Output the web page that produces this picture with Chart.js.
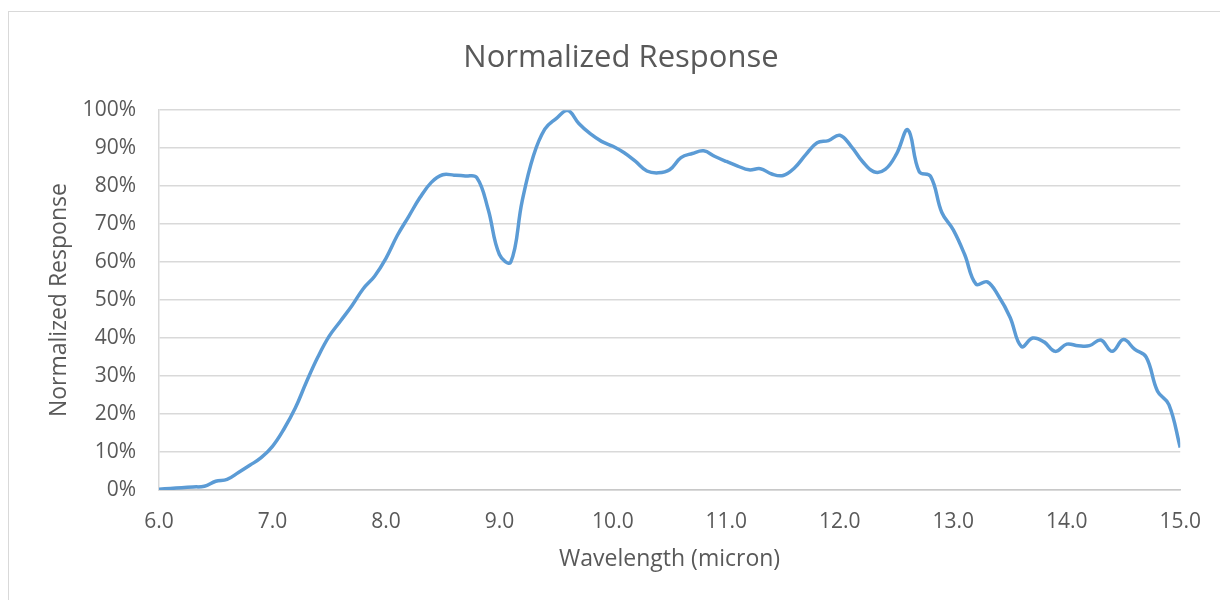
<!DOCTYPE html>
<html>
<head>
<meta charset="utf-8">
<script src="https://cdn.jsdelivr.net/npm/chart.js@4"></script>
<style>
    body { margin: 0; background: #fff; }
    .wrap { position: relative; width: 1220px; height: 600px; overflow: hidden; }
    .frame { position: absolute; left: 8px; top: 11px; width: 1230px; height: 610px;
             border-left: 1.5px solid #d9d9d9; border-top: 1.5px solid #d9d9d9; }
    canvas { position: absolute; left: 0; top: 0; }
</style>
</head>
<body>
<div class="wrap">
    <div class="frame"></div>
    <canvas id="responseChart" width="1220" height="600"></canvas>
</div>
<script>
// Wavelength samples (micron) and normalized response (%)
const wavelengths = [
    6.0, 6.1, 6.2, 6.3, 6.4, 6.5, 6.6, 6.7, 6.8, 6.9,
    7.0, 7.1, 7.2, 7.3, 7.4, 7.5, 7.6, 7.7, 7.8, 7.9,
    8.0, 8.1, 8.2, 8.3, 8.4, 8.5, 8.6, 8.7, 8.8, 8.9,
    9.0, 9.1, 9.2, 9.3, 9.4, 9.5, 9.6, 9.7, 9.8, 9.9,
    10.0, 10.1, 10.2, 10.3, 10.4, 10.5, 10.6, 10.7, 10.8, 10.9,
    11.0, 11.1, 11.2, 11.3, 11.4, 11.5, 11.6, 11.7, 11.8, 11.9,
    12.0, 12.1, 12.2, 12.3, 12.4, 12.5, 12.6, 12.7, 12.8, 12.9,
    13.0, 13.1, 13.2, 13.3, 13.4, 13.5, 13.6, 13.7, 13.8, 13.9,
    14.0, 14.1, 14.2, 14.3, 14.4, 14.5, 14.6, 14.7, 14.8, 14.9,
    15.0
];
const response = [
    0.2, 0.4, 0.6, 0.8, 1.0, 2.3, 2.8, 4.6, 6.5, 8.5,
    11.5, 16.0, 21.5, 28.5, 35.0, 40.5, 44.5, 48.5, 53.0, 56.3,
    61.0, 67.0, 72.0, 77.0, 81.0, 83.0, 82.9, 82.7, 82.3, 74.0,
    62.0, 60.0, 76.0, 88.0, 95.0, 97.8, 100.0, 96.5, 93.8, 91.8,
    90.5, 88.8, 86.5, 84.0, 83.5, 84.3, 87.5, 88.6, 89.3, 87.8,
    86.5, 85.3, 84.3, 84.6, 83.2, 82.8, 84.8, 88.3, 91.4, 92.0,
    93.4, 90.5, 86.5, 83.8, 84.4, 88.5, 94.8, 83.8, 82.6, 73.0,
    68.5, 62.0, 54.2, 54.8, 51.0, 45.5, 37.8, 40.0, 39.0, 36.5,
    38.4, 38.0, 38.0, 39.5, 36.5, 39.6, 37.0, 35.0, 26.0, 22.5,
    11.2
];
const xTicks = [6, 7, 8, 9, 10, 11, 12, 13, 14, 15];

const textColor = '#595959';
const gridColor = '#d9d9d9';
const fontFamily = '"Open Sans", sans-serif';

const points = wavelengths.map((w, i) => ({ x: w, y: response[i] }));

const ctx = document.getElementById('responseChart').getContext('2d');
const responseChart = new Chart(ctx, {
    type: 'line',
    data: {
        datasets: [{
            label: 'Normalized Response',
            data: points,
            borderColor: '#5b9bd5',
            borderWidth: 3.5,
            pointRadius: 0,
            tension: 0.4,
            fill: false
        }]
    },
    options: {
        responsive: false,
        animation: false,
        layout: {
            padding: { left: 22, right: 0, top: 0, bottom: 0 }
        },
        plugins: {
            legend: { display: false },
            tooltip: { enabled: false },
            title: {
                display: true,
                text: 'Normalized Response',
                color: textColor,
                font: { family: fontFamily, size: 31, weight: 'normal' },
                padding: { top: 40, bottom: 33 }
            }
        },
        scales: {
            x: {
                type: 'linear',
                min: 6,
                max: 15,
                afterBuildTicks: function(scale) {
                    scale.ticks = xTicks.map(v => ({ value: v }));
                },
                afterFit: function(scale) {
                    scale.height = 110;
                },
                grid: { display: false, drawTicks: false },
                border: { display: true, color: '#c8c8c8', width: 1.5 },
                ticks: {
                    padding: 19,
                    color: textColor,
                    font: { family: fontFamily, size: 21 },
                    callback: function(value) {
                        return Number(value).toFixed(1);
                    }
                },
                title: {
                    display: true,
                    text: 'Wavelength (micron)',
                    color: textColor,
                    font: { family: fontFamily, size: 23 },
                    padding: { top: 0, bottom: 27 }
                }
            },
            y: {
                min: 0,
                max: 100,
                afterFit: function(scale) {
                    scale.width = 137;
                },
                grid: { color: gridColor, lineWidth: 1.5, drawTicks: false },
                border: { display: true, color: gridColor, width: 1.5 },
                ticks: {
                    stepSize: 10,
                    padding: 23,
                    color: textColor,
                    font: { family: fontFamily, size: 21 },
                    callback: function(value) {
                        return value + '%';
                    }
                },
                title: {
                    display: true,
                    text: 'Normalized Response',
                    color: textColor,
                    font: { family: fontFamily, size: 23 },
                    padding: { top: 24, bottom: 24 }
                }
            },
            // empty right-hand margin so the plot ends at 15.0 with room after it
            margin: {
                position: 'right',
                afterFit: function(scale) {
                    scale.width = 35;
                },
                grid: { display: false, drawTicks: false },
                border: { display: false },
                ticks: { display: false }
            }
        }
    }
});
</script>
</body>
</html>
